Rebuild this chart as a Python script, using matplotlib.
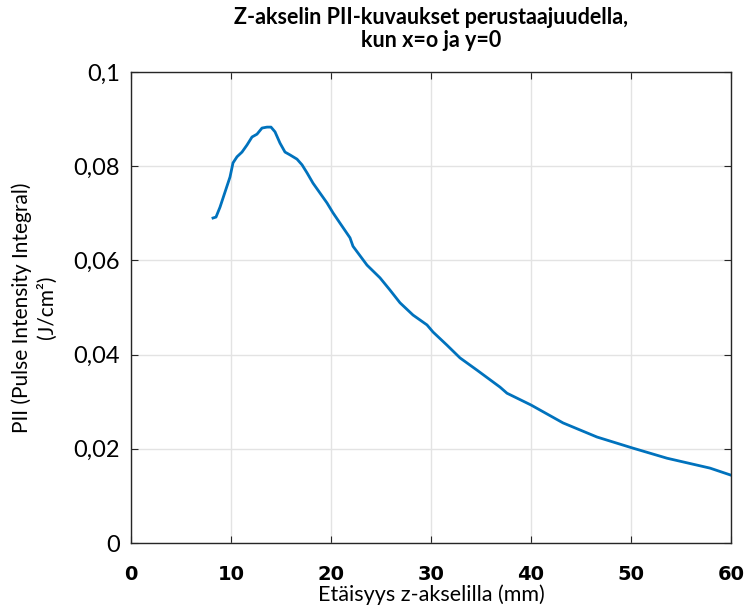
import matplotlib
matplotlib.use("Agg")
import matplotlib.pyplot as plt

# etäisyys z-akselilla (mm) ja PII (J/cm2), luettu kuvasta
z_mm = [8.2, 8.5, 8.9, 9.4, 9.9, 10.2, 10.6, 11.1, 11.6, 12.1, 12.6, 13.1, 13.6,
        14.0, 14.4, 14.9, 15.4, 15.9, 16.6, 17.1, 17.6, 18.2, 18.9, 19.6, 20.2,
        21.0, 21.9, 22.2, 23.6, 24.9, 25.9, 26.9, 28.2, 29.6, 30.2, 31.6, 32.9,
        34.6, 36.9, 37.6, 40.0, 43.2, 46.6, 50.1, 53.6, 57.9, 60.0]
pii = [0.0690, 0.0692, 0.0713, 0.0745, 0.0777, 0.0807, 0.0820, 0.0830, 0.0845,
       0.0862, 0.0868, 0.0881, 0.0883, 0.0883, 0.0873, 0.0849, 0.0830, 0.0824,
       0.0815, 0.0803, 0.0786, 0.0764, 0.0743, 0.0722, 0.0701, 0.0676, 0.0648,
       0.0630, 0.0590, 0.0563, 0.0537, 0.0510, 0.0484, 0.0463, 0.0448, 0.0420,
       0.0393, 0.0367, 0.0331, 0.0318, 0.0293, 0.0255, 0.0225, 0.0202, 0.0180,
       0.0159, 0.0144]

x_ticks = [0, 10, 20, 30, 40, 50, 60]
y_ticks = [0, 0.02, 0.04, 0.06, 0.08, 0.1]
y_tick_labels = ["0", "0,02", "0,04", "0,06", "0,08", "0,1"]

plt.rcParams['font.family'] = ['Lato', 'DejaVu Sans']

fig = plt.figure(figsize=(7.45, 6.07), dpi=100)
ax = fig.add_axes([131 / 745, 1 - 543 / 607, 600 / 745, 471 / 607])

ax.plot(z_mm, pii, color='#0072BD', linewidth=2.0)

ax.set_xlim(0, 60)
ax.set_ylim(0, 0.1)
ax.set_xticks(x_ticks)
ax.set_xticklabels([str(t) for t in x_ticks], fontsize=14, fontweight='bold',
                   family=['DejaVu Sans'])
ax.set_yticks(y_ticks)
ax.set_yticklabels(y_tick_labels, fontsize=17)
ax.tick_params(direction='in', length=5, width=0.8, top=True, right=True,
               color='#262626')
ax.tick_params(axis='x', pad=16)
ax.tick_params(axis='y', pad=8)
ax.grid(True, color='#e3e3e3', linewidth=1.0)
ax.set_axisbelow(True)
for s in ax.spines.values():
    s.set_color('#262626')
    s.set_linewidth(1.0)

ax.set_xlabel("Etäisyys z-akselilla (mm)", fontsize=15.5, labelpad=0)
ax.set_ylabel("PII (Pulse Intensity Integral)\n(J/cm²)", fontsize=15,
              labelpad=12, linespacing=1.25)
ax.set_title("Z-akselin PII-kuvaukset perustaajuudella,\nkun x=o ja y=0",
             fontsize=15.5, fontweight='bold', pad=18, linespacing=1.1)

fig.savefig("out.png", dpi=100)
